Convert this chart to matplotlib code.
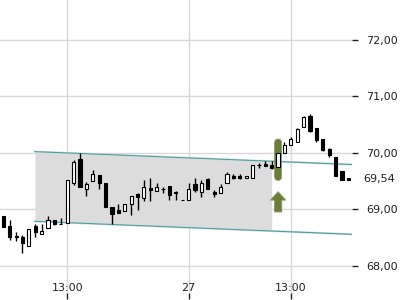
import matplotlib.pyplot as plt
import matplotlib.transforms as mtransforms
from matplotlib.patches import FancyBboxPatch
import numpy as np

# OHLC candles
opens = [68.88, 68.70, 68.53, 68.50, 68.35, 68.70, 68.555, 68.67, 68.81, 68.74,
         68.75, 69.47, 69.88, 69.36, 69.50, 69.605, 69.46, 69.03, 68.985, 68.97,
         69.09, 69.27, 69.20, 69.37, 69.32, 69.365, 69.41, 69.30, 69.16, 69.16,
         69.445, 69.31, 69.53, 69.31, 69.29, 69.46, 69.59, 69.59, 69.545, 69.56,
         69.785, 69.80, 69.78, 69.75, 69.99, 70.13, 70.195, 70.45, 70.64, 70.44,
         70.24, 70.065, 69.92, 69.68, 69.545]
highs = [68.88, 68.80, 68.60, 68.54, 68.65, 68.73, 68.74, 68.88, 68.81, 68.84,
         69.51, 69.87, 70.00, 69.475, 69.69, 69.61, 69.46, 69.03, 69.09, 69.10,
         69.24, 69.29, 69.52, 69.545, 69.47, 69.40, 69.41, 69.32, 69.16, 69.46,
         69.56, 69.52, 69.545, 69.34, 69.44, 69.65, 69.62, 69.62, 69.59, 69.78,
         69.81, 69.85, 69.85, 70.00, 70.18, 70.28, 70.44, 70.65, 70.68, 70.44,
         70.24, 70.09, 69.92, 69.68, 69.545]
lows = [68.69, 68.455, 68.44, 68.22, 68.35, 68.51, 68.555, 68.67, 68.72, 68.74,
        68.75, 69.42, 69.40, 69.24, 69.49, 69.35, 69.03, 68.74, 68.93, 68.97,
        68.90, 68.985, 69.15, 69.15, 69.32, 69.29, 69.17, 69.17, 69.16, 69.16,
        69.31, 69.22, 69.35, 69.21, 69.28, 69.46, 69.53, 69.53, 69.545, 69.56,
        69.735, 69.77, 69.705, 69.75, 69.99, 70.13, 70.18, 70.45, 70.37, 70.195,
        70.03, 69.92, 69.59, 69.52, 69.52]
closes = [68.69, 68.513, 68.50, 68.40, 68.643, 68.59, 68.61, 68.81, 68.74, 68.74,
          69.51, 69.84, 69.40, 69.44, 69.63, 69.457, 69.03, 68.91, 68.94, 69.10,
          69.24, 69.22, 69.39, 69.34, 69.39, 69.355, 69.25, 69.28, 69.16, 69.36,
          69.34, 69.46, 69.35, 69.27, 69.39, 69.62, 69.56, 69.55, 69.59, 69.78,
          69.775, 69.77, 69.72, 70.00, 70.13, 70.24, 70.41, 70.625, 70.39, 70.22,
          70.05, 69.96, 69.59, 69.52, 69.52]

# x tick labels (candle index -> label)
tick_idx = [10, 29, 45]
tick_labels = ["13:00", "27", "13:00"]

# price axis
price_ticks = [68, 69, 70, 71, 72]
last_price = 69.54

# trend channel
channel_x = [4.95, 54.5]
channel_upper = [70.018, 69.79]
channel_lower = [68.785, 68.555]
channel_fill_end = 42.0

# breakout signal
signal_idx = 43
arrow_top = 69.31
arrow_bottom = 68.95

x = np.arange(len(opens))
o = np.array(opens)
c = np.array(closes)

fig = plt.figure(figsize=(4, 3), dpi=100)
ax = fig.add_axes([0, 7 / 300, 352 / 400, 293 / 300])
ax.set_xlim(-0.52, 54.57)
ax.set_ylim(67.516, 72.702)

# grid
ax.set_axisbelow(True)
ax.grid(True, color="#d9d9d9", linewidth=1)
for s in ax.spines.values():
    s.set_visible(False)

# channel
fx = np.linspace(channel_x[0], channel_fill_end, 50)
ax.fill_between(fx, np.interp(fx, channel_x, channel_lower),
                np.interp(fx, channel_x, channel_upper),
                color="#dcdcdc", linewidth=0, zorder=1)
for line in (channel_upper, channel_lower):
    ax.plot(channel_x, line, color="#c2dbdc", linewidth=1.5, zorder=2)
    ax.plot(channel_x, line, color="#4f9899", linewidth=0.7, zorder=2)

# signal highlight behind candle
green = "#6b7d3b"
pad = 0.24
box = FancyBboxPatch((signal_idx - 0.55, lows[signal_idx] - pad), 1.1,
                     highs[signal_idx] - lows[signal_idx] + 2 * pad,
                     boxstyle="round,pad=0,rounding_size=0.5",
                     mutation_aspect=0.16,
                     facecolor=green, edgecolor="#8a9a60", linewidth=0.6, zorder=3)
ax.add_patch(box)

# arrow
ax.arrow(signal_idx, arrow_bottom, 0, arrow_top - arrow_bottom,
         width=1.15, head_width=2.4, head_length=0.15,
         length_includes_head=True, facecolor=green, edgecolor="#8a9a60",
         linewidth=0.6, zorder=3)

# candles
ax.vlines(x, lows, highs, color="black", linewidth=1, zorder=4)
up = c >= o
body_bottom = np.minimum(o, c)
body_h = np.abs(c - o)
ax.bar(x[up], body_h[up], bottom=body_bottom[up], width=0.5,
       facecolor="white", edgecolor="black", linewidth=0.8, zorder=5)
ax.bar(x[~up], body_h[~up], bottom=body_bottom[~up], width=0.5,
       facecolor="black", edgecolor="black", linewidth=0.8, zorder=5)

# axes ticks
ax.yaxis.tick_right()
ax.set_yticks(price_ticks)
ax.set_yticklabels([f"{v:.2f}".replace(".", ",") for v in price_ticks])
ax.tick_params(axis="y", length=4, width=1, pad=6, labelsize=8, colors="#222222")
ax.set_xticks(tick_idx)
ax.set_xticklabels(tick_labels)
ax.tick_params(axis="x", length=4, width=1, pad=-11, labelsize=8, colors="#222222")

trans = mtransforms.blended_transform_factory(ax.transAxes, ax.transData)
ax.text(1.0 + 11 / 352, last_price, f"{last_price:.2f}".replace(".", ","),
        transform=trans, ha="left", va="center", fontsize=8, color="#222222")

fig.savefig("out.png", dpi=100)
